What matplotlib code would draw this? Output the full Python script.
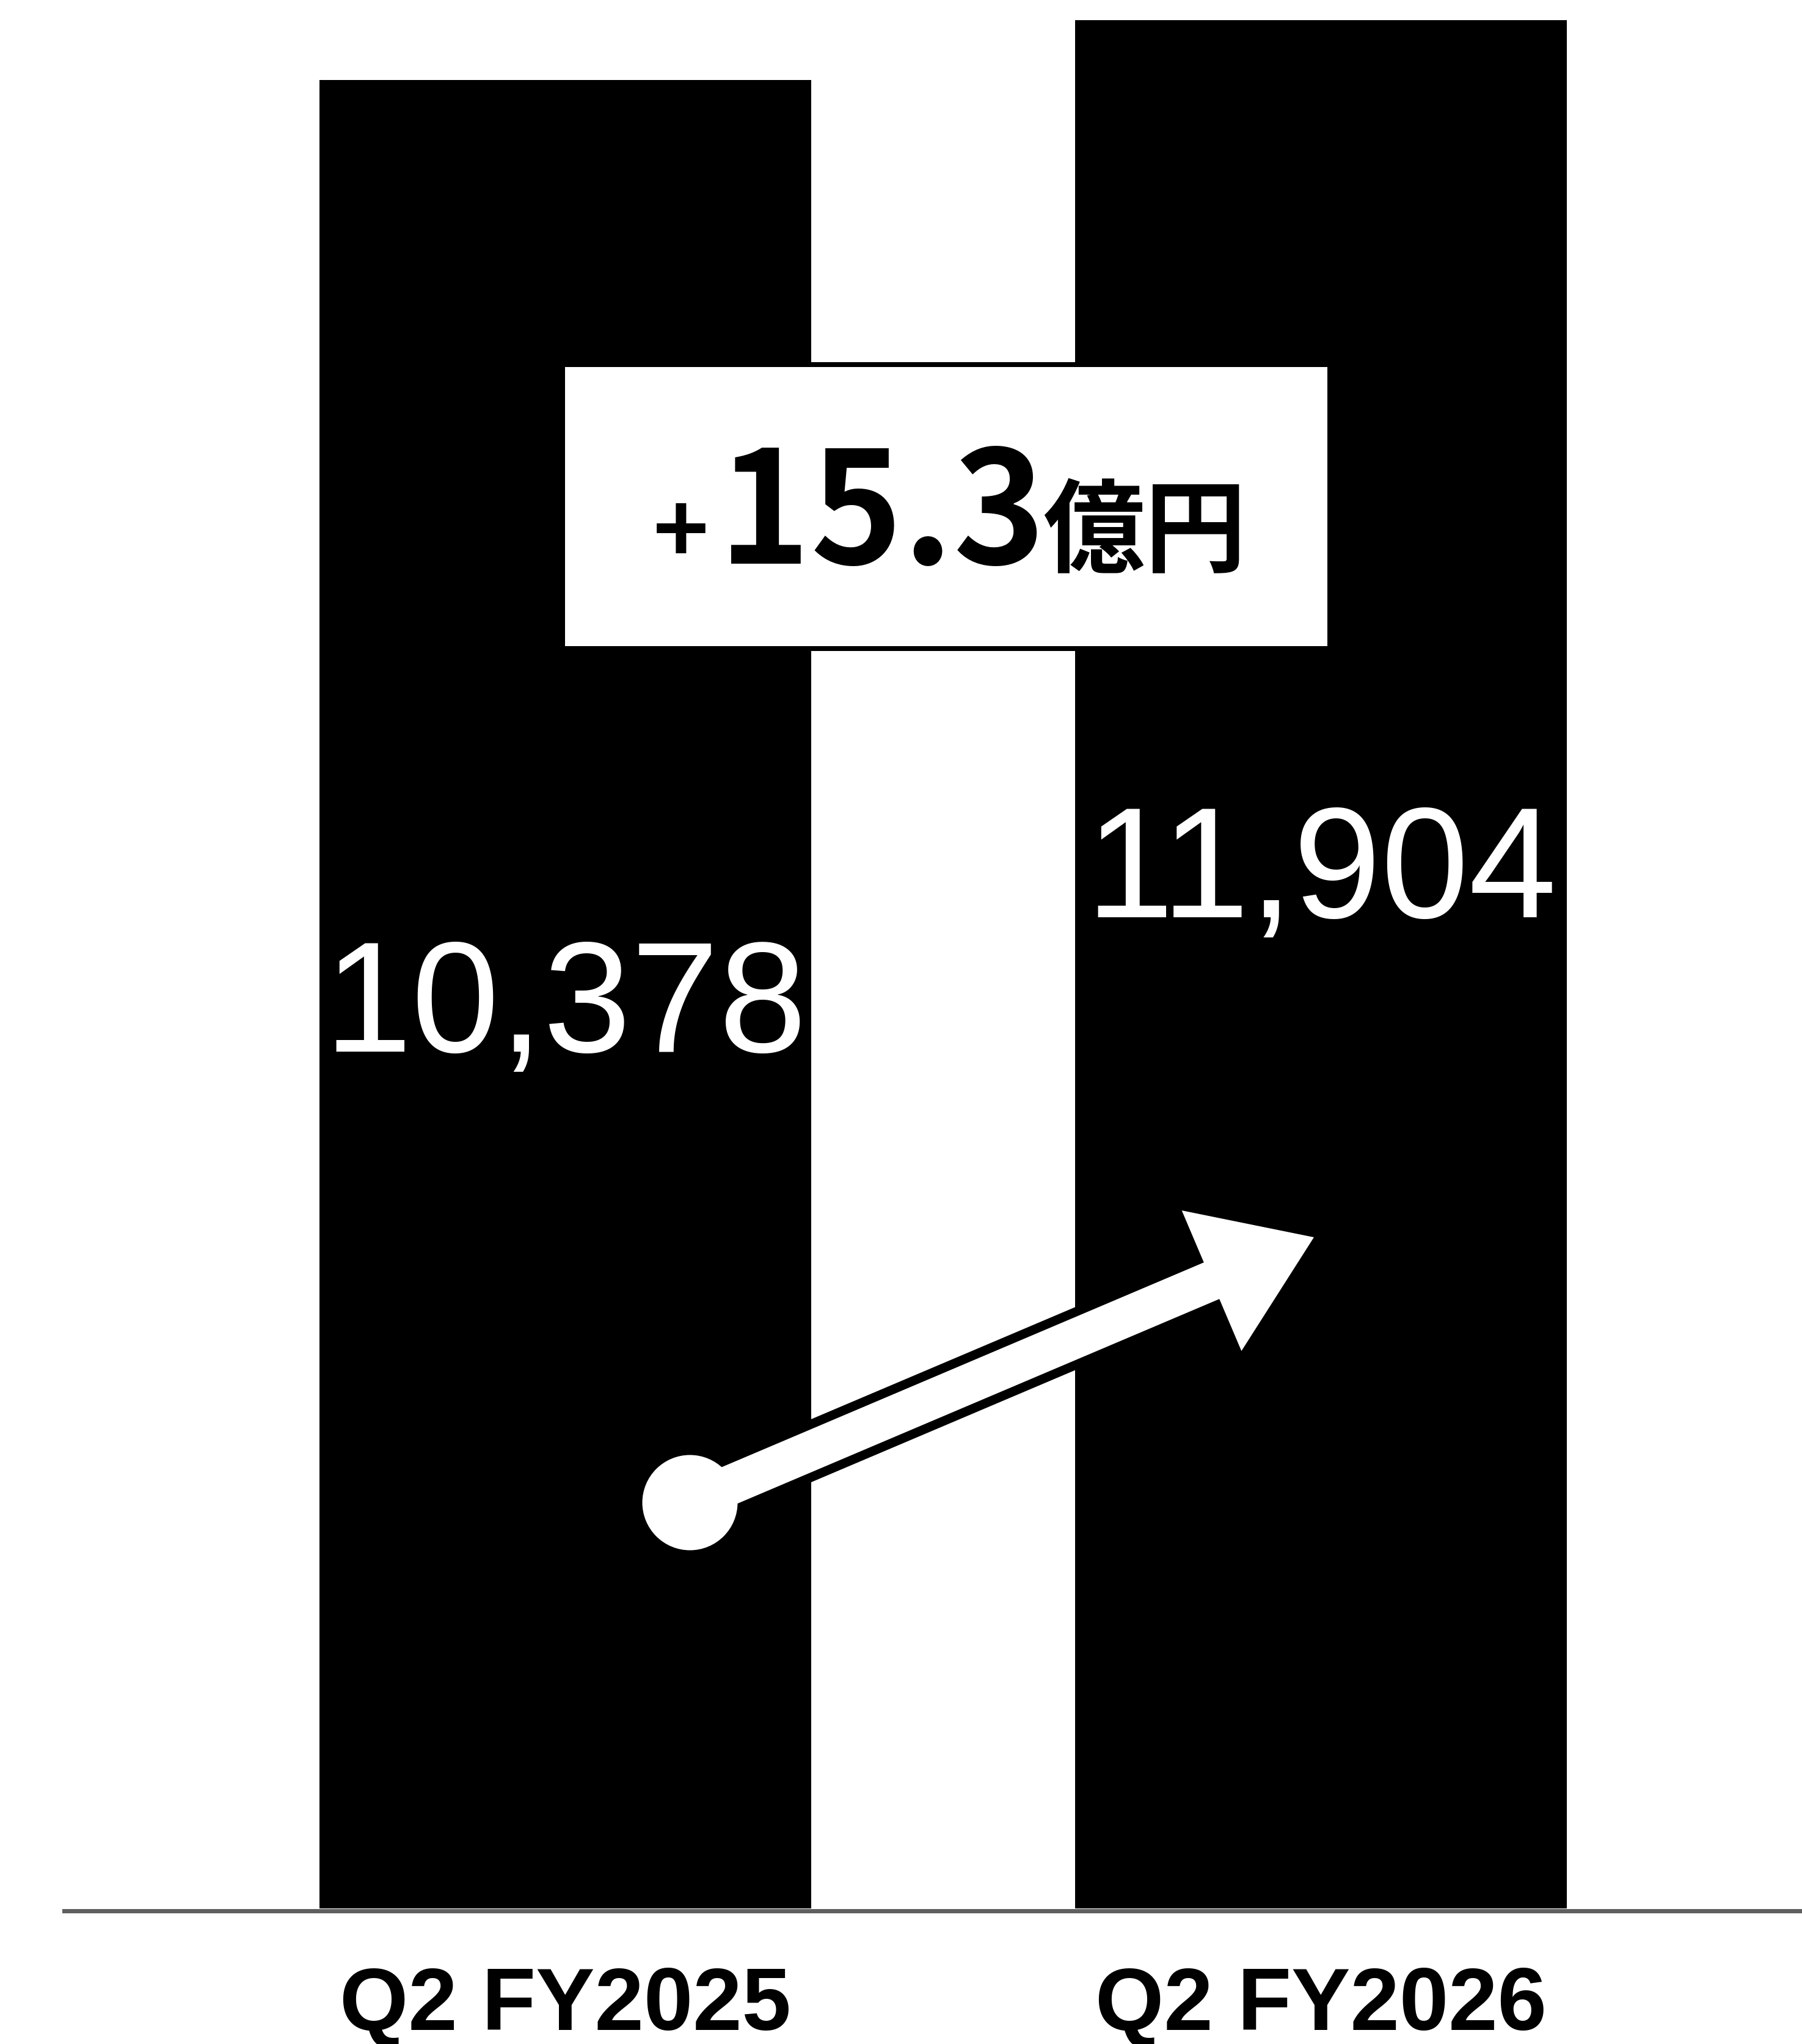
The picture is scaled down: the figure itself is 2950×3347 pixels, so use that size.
import matplotlib
matplotlib.use("Agg")
import matplotlib.pyplot as plt
import matplotlib.transforms as mtransforms
from matplotlib.patches import Rectangle, FancyArrow
import numpy as np

# ── data ──────────────────────────────────────────────────────────────────────
categories   = ["Q2 FY2025", "Q2 FY2026"]
values       = [10378, 11904]
value_labels = ["10,378", "11,904"]
delta_sign   = "+"
delta_num    = "15.3"
delta_unit   = "億円"

# slide-style axis: bars rise from a deep baseline so the gap looks small
BAR_BASE = -36243
Y_MIN, Y_MAX = -39700, 12433

W, H, DPI = 2950, 3348, 100
PT = 72 / DPI          # points per pixel


def fx(x):
    return x / W


def fy(y):
    """pixel measured from top -> figure fraction"""
    return 1 - y / H


def inch(x, y):
    """pixel from top-left -> inches from bottom-left"""
    return x / DPI, (H - y) / DPI


fig = plt.figure(figsize=(W / DPI, H / DPI), dpi=DPI)
ax = fig.add_axes([0, 0, 1, 1])
ax.set_xlim(-0.7479, 1.636)
ax.set_ylim(Y_MIN, Y_MAX)
ax.axis("off")

x = list(range(len(categories)))
heights = [v - BAR_BASE for v in values]
ax.bar(x, heights, bottom=BAR_BASE, width=0.6505, color="black", zorder=2)

# baseline
ax.axhline(BAR_BASE - 60, xmin=fx(105), xmax=1, color="#5f5f5f", lw=7 * PT, zorder=3)

# value labels inside bars
blend = mtransforms.blended_transform_factory(ax.transData, ax.transAxes)
label_y = [fy(1722), fy(1502)]
for xi, lab, ly in zip(x, value_labels, label_y):
    ax.text(xi, ly, lab, transform=blend, ha="center", va="baseline",
            color="white", fontsize=186, family="Liberation Sans", zorder=6)

# category labels
for xi, cat in zip(x, categories):
    ax.text(xi, fy(3324), cat, transform=blend, ha="center", va="baseline",
            color="black", fontsize=104, fontweight="bold",
            family="Liberation Sans", zorder=6)

# difference box
box = Rectangle((fx(921), fy(1063)), fx(2177) - fx(921), fy(598) - fy(1063),
                transform=ax.transAxes, facecolor="white", edgecolor="black",
                lw=8 * PT, zorder=4)
ax.add_patch(box)
cjk = ["Noto Sans CJK JP", "DejaVu Sans"]
ax.text(fx(1161), fy(923), delta_sign, transform=ax.transAxes, ha="right",
        va="baseline", fontsize=112, fontweight="bold", family=cjk, zorder=5)
ax.text(fx(1176), fy(923), delta_num, transform=ax.transAxes, ha="left",
        va="baseline", fontsize=184, fontweight="bold", family=cjk, zorder=5)
ax.text(fx(1707), fy(923), delta_unit, transform=ax.transAxes, ha="left",
        va="baseline", fontsize=120, fontweight="bold", family=cjk, zorder=5)

# growth arrow (white, with a thin black rim along the shaft)
x0, y0 = inch(1129, 2461)
x1, y1 = inch(2151, 2027)
dx, dy = x1 - x0, y1 - y0
length = np.hypot(dx, dy)
head_len = 182 / DPI
bx, by = x0 + dx * (length - head_len) / length, y0 + dy * (length - head_len) / length
ax.plot([x0, bx], [y0, by], transform=fig.dpi_scale_trans, color="black",
        lw=95 * PT, solid_capstyle="butt", zorder=3.5)
arrow = FancyArrow(x0, y0, dx, dy, width=65 / DPI, head_width=250 / DPI,
                   head_length=head_len, length_includes_head=True,
                   transform=fig.dpi_scale_trans, facecolor="white",
                   edgecolor="none", zorder=4)
ax.add_patch(arrow)
ax.plot([x0], [y0], transform=fig.dpi_scale_trans, marker="o",
        markersize=156 * PT, markerfacecolor="white", markeredgecolor="none",
        zorder=5)

fig.savefig("out.png", dpi=DPI, facecolor="white")
